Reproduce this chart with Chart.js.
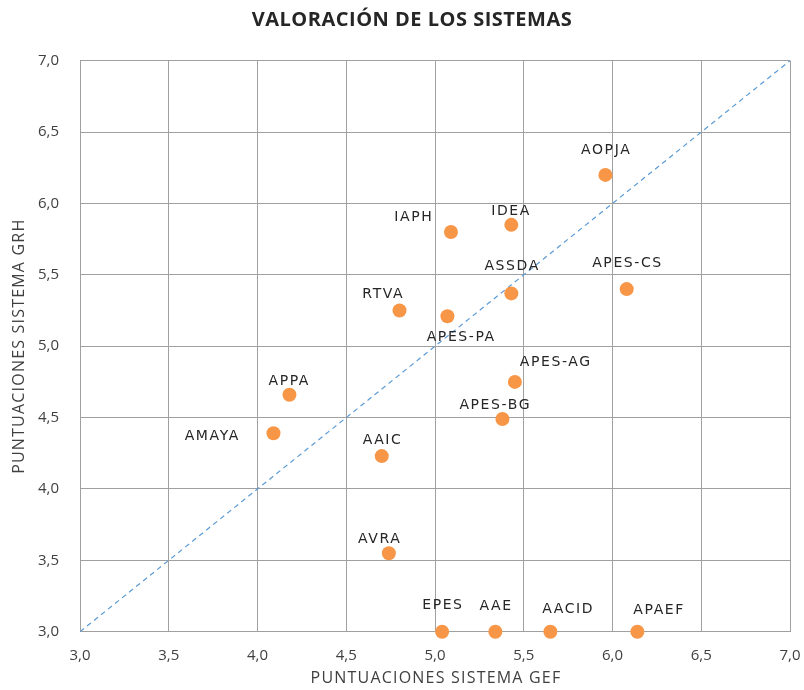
<!DOCTYPE html>
<html>
<head>
<meta charset="utf-8">
<script src="https://cdn.jsdelivr.net/npm/chart.js@4"></script>
<style>
html,body{margin:0;padding:0;background:#fff;}
#wrap{width:804px;height:690px;position:relative;}
</style>
</head>
<body>
<div id="wrap"><canvas id="c" width="804" height="690"></canvas></div>
<script>
// ---- data ----
const names = ['AOPJA','IDEA','IAPH','APES-CS','ASSDA','RTVA','APES-PA','APES-AG','APPA','APES-BG','AMAYA','AAIC','AVRA','EPES','AAE','AACID','APAEF'];
const gefScores = [5.96,5.43,5.09,6.08,5.43,4.80,5.07,5.45,4.18,5.38,4.09,4.70,4.74,5.04,5.34,5.65,6.14];
const grhScores = [6.20,5.85,5.80,5.40,5.37,5.25,5.21,4.75,4.66,4.49,4.39,4.23,3.55,3.00,3.00,3.00,3.00];
const diagX = [3, 7];
const diagY = [3, 7];
const axisMin = 3, axisMax = 7, axisStep = 0.5;
const chartTitle = 'VALORACIÓN DE LOS SISTEMAS';
const xTitle = 'PUNTUACIONES SISTEMA GEF';
const yTitle = 'PUNTUACIONES SISTEMA GRH';

// ---- label placement (style) ----
const labelOffsets = [[0,-25],[-1,-14],[-38,-15],[0,-26],[0,-27],[-17,-16],[13,21],[40,-20],[-1,-13],[-8,-14],[-62,3],[0,-16],[-10,-14],[0,-26],[0,-25],[17,-22],[21,-21]];

const fmt = v => Number(v).toFixed(1).replace('.', ',');

const labelPlugin = {
  id: 'pointLabels',
  afterDatasetsDraw(chart) {
    const meta = chart.getDatasetMeta(1);
    const ctx = chart.ctx;
    ctx.save();
    ctx.font = '14px "DejaVu Sans"';
    if ('letterSpacing' in ctx) ctx.letterSpacing = '1.6px';
    ctx.fillStyle = '#262626';
    ctx.textAlign = 'center';
    ctx.textBaseline = 'middle';
    meta.data.forEach((pt, i) => {
      const o = labelOffsets[i] || [0, -20];
      ctx.fillText(names[i], pt.x + o[0] + 0.8, pt.y + o[1]);
    });
    ctx.restore();
  }
};

const titlePlugin = {
  id: 'customTitles',
  afterDraw(chart) {
    const ctx = chart.ctx;
    const area = chart.chartArea;
    ctx.save();
    ctx.textAlign = 'center';
    ctx.textBaseline = 'middle';
    // chart title
    ctx.font = 'bold 20px "Open Sans"';
    if ('letterSpacing' in ctx) ctx.letterSpacing = '0.5px';
    ctx.fillStyle = '#262626';
    ctx.fillText(chartTitle, chart.width / 2 + 10, 20);
    // axis titles
    ctx.font = '16px "Open Sans"';
    if ('letterSpacing' in ctx) ctx.letterSpacing = '1.2px';
    ctx.fillStyle = '#404040';
    ctx.fillText(xTitle, (area.left + area.right) / 2 + 1, chart.height - 12);
    ctx.translate(19, (area.top + area.bottom) / 2);
    ctx.rotate(-Math.PI / 2);
    ctx.fillText(yTitle, 0, 0);
    ctx.restore();
  }
};

const tickFont = {family: '"Open Sans"', size: 15};
const axisColor = '#a0a0a0';

new Chart(document.getElementById('c'), {
  type: 'scatter',
  data: {
    datasets: [
      {
        type: 'line',
        data: diagX.map((x, i) => ({x, y: diagY[i]})),
        borderColor: '#5b9bd5',
        borderWidth: 1.2,
        borderDash: [5, 4],
        pointRadius: 0,
        fill: false,
        order: 2
      },
      {
        data: gefScores.map((x, i) => ({x, y: grhScores[i]})),
        backgroundColor: '#f79646',
        borderColor: '#f79646',
        pointRadius: 7,
        pointHoverRadius: 7,
        borderWidth: 0,
        clip: false,
        order: 1
      }
    ]
  },
  options: {
    responsive: false,
    animation: false,
    devicePixelRatio: 1,
    layout: {padding: {left: 0, right: 14, top: 60.7, bottom: 0}},
    plugins: {
      legend: {display: false},
      tooltip: {enabled: false},
      title: {display: false}
    },
    scales: {
      x: {
        type: 'linear',
        min: axisMin, max: axisMax,
        ticks: {stepSize: axisStep, callback: fmt, color: '#404040', font: tickFont, padding: 15, maxRotation: 0},
        grid: {color: axisColor, drawTicks: false, lineWidth: 1},
        border: {color: axisColor},
        title: {display: false},
        afterFit(s) { s.height = 58.3; s.paddingLeft = 0; s.paddingRight = 0; }
      },
      y: {
        type: 'linear',
        min: axisMin, max: axisMax,
        ticks: {stepSize: axisStep, callback: fmt, color: '#404040', font: tickFont, padding: 21},
        grid: {color: axisColor, drawTicks: false, lineWidth: 1},
        border: {color: axisColor},
        title: {display: false},
        afterFit(s) { s.width = 80; s.paddingTop = 0; s.paddingBottom = 0; }
      }
    }
  },
  plugins: [labelPlugin, titlePlugin]
});
</script>
</body>
</html>
